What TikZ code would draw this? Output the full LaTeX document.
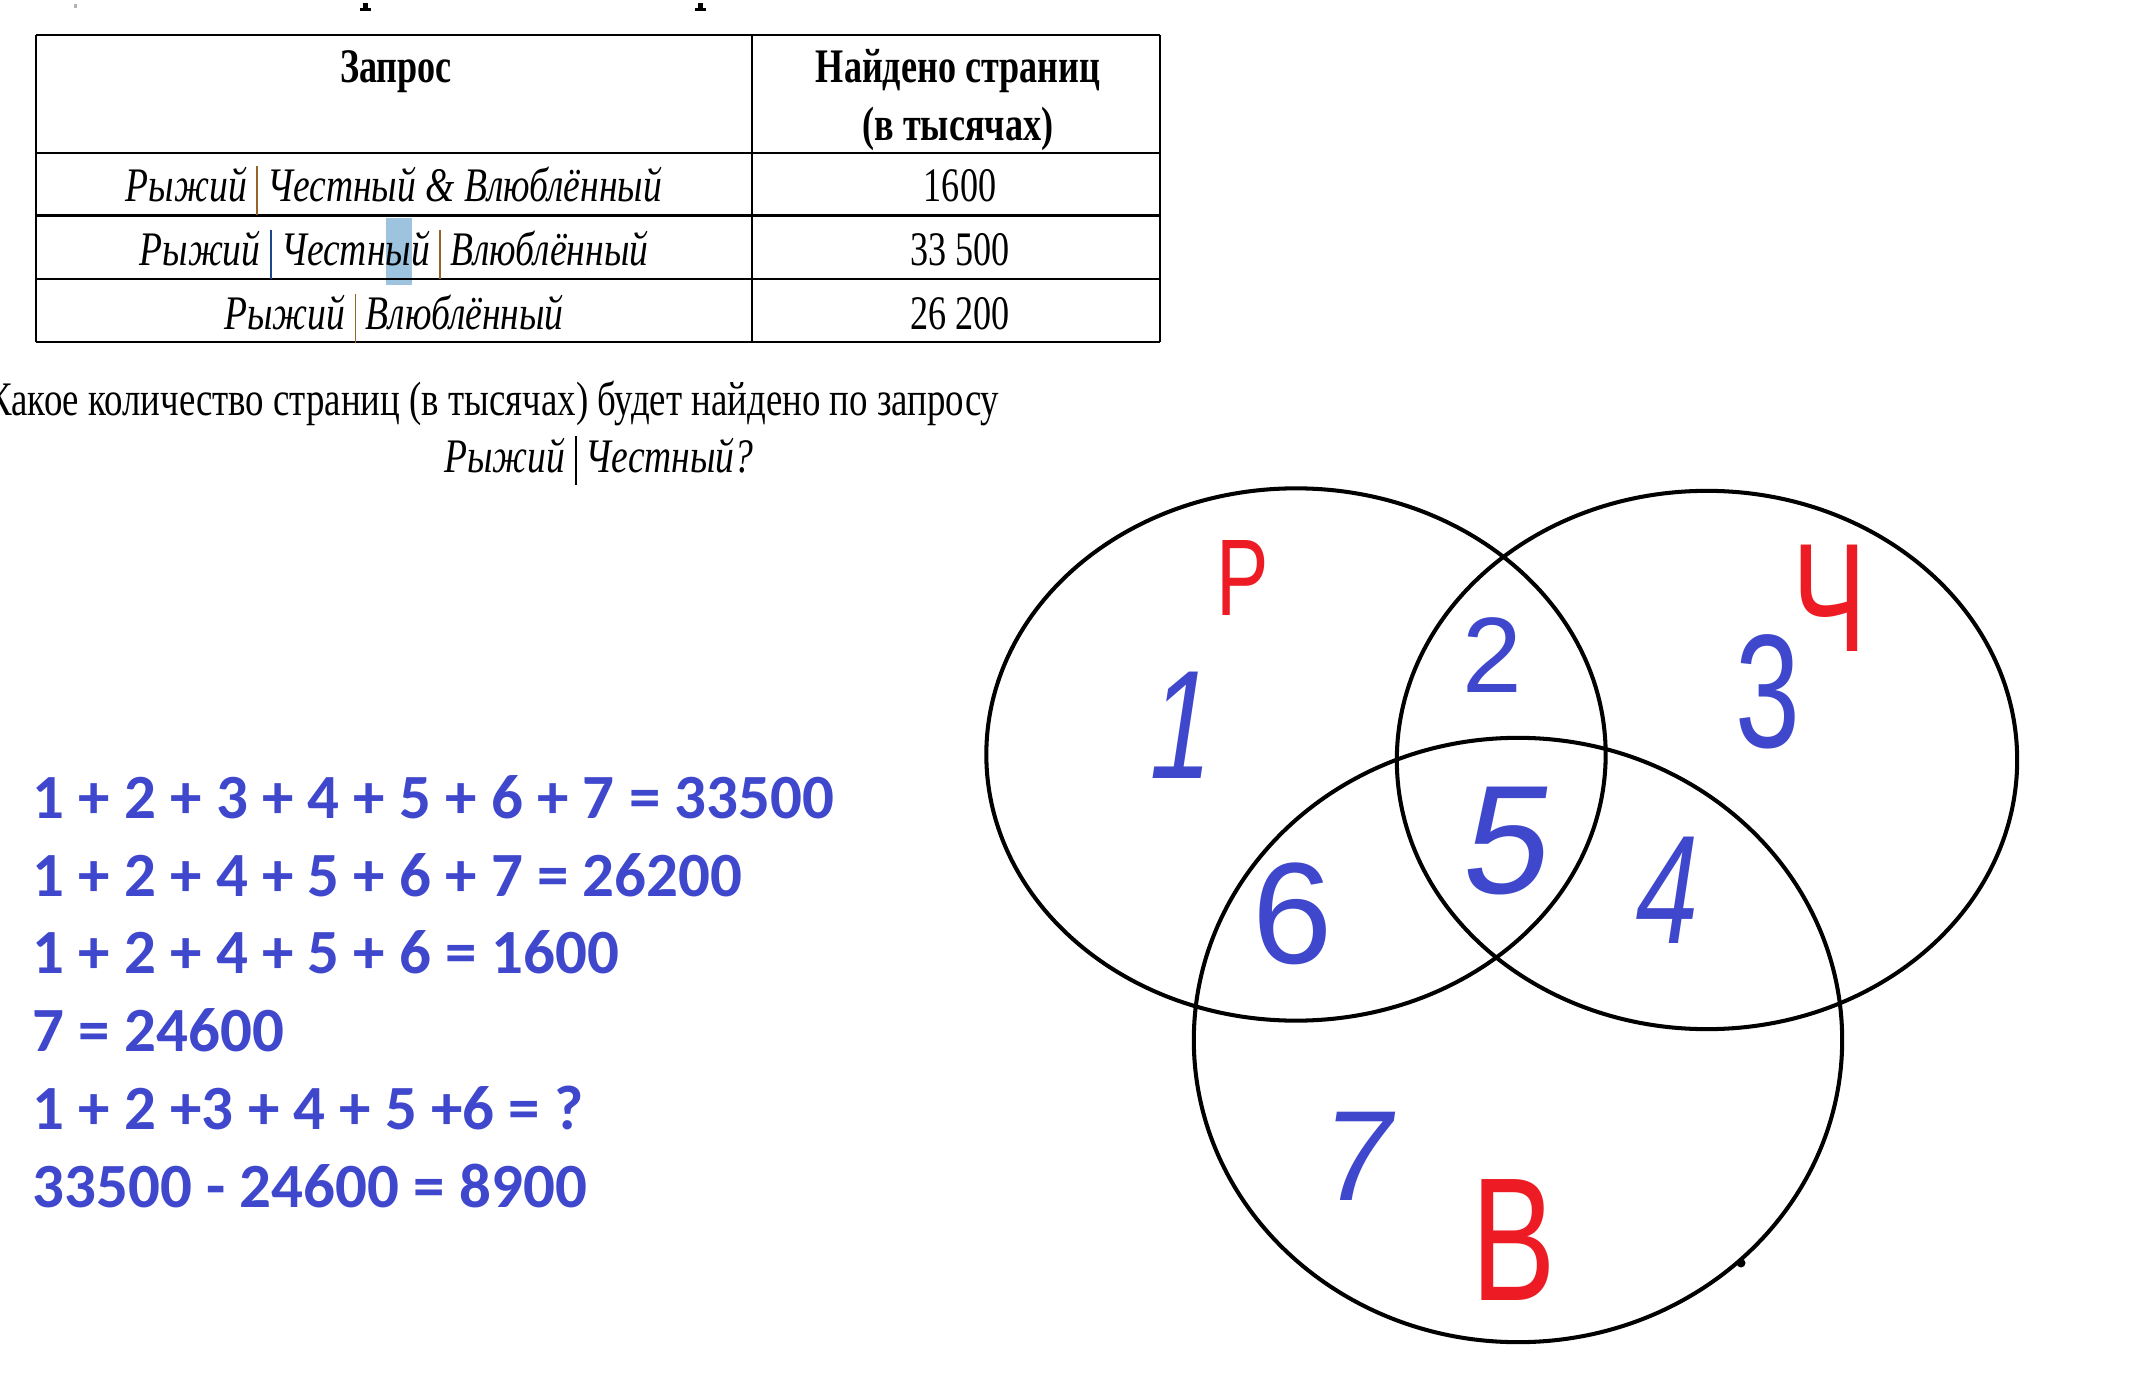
\documentclass[tikz,border=0pt]{standalone}
\usepackage{fontspec}
\setmainfont{Liberation Serif}
\newfontfamily\tbl[FakeStretch=0.75]{Liberation Serif}
\newfontfamily\tbli[FakeStretch=0.78]{Liberation Serif}
\newfontfamily\tblq[FakeStretch=0.765]{Liberation Serif}
\newfontfamily\eqf{Carlito}
\newfontfamily\hand[FakeStretch=0.72]{Liberation Sans}
\newfontfamily\handsl[FakeStretch=0.72,FakeSlant=0.15]{Liberation Sans}
\newfontfamily\handw{Liberation Sans}
\newfontfamily\handwsl[FakeSlant=0.15]{Liberation Sans}
\definecolor{pblue}{RGB}{63,72,204}
\definecolor{pred}{RGB}{237,28,36}
\definecolor{hlcol}{RGB}{157,195,222}
\definecolor{barA}{RGB}{150,100,40}
\definecolor{barB}{RGB}{30,70,140}
\newcommand\vb[1]{\textcolor{#1}{\rule[-0.27em]{0.5pt}{1.02em}}}
\begin{document}
\begin{tikzpicture}[x=0.01cm,y=-0.01cm,
  tabtxt/.style={inner sep=0,anchor=base,font={\tbl\fontsize{13.7}{16}\selectfont}},
  tabhead/.style={tabtxt,font={\tbl\bfseries\fontsize{13.7}{16}\selectfont}},
  tabit/.style={tabtxt,font={\tbli\itshape\fontsize{13.7}{16}\selectfont}},
  hrule/.style={line width=0.75pt,black},
  vrule/.style={line width=0.5pt,black},
  eqline/.style={anchor=base west,inner sep=0,text=pblue,font={\eqf\bfseries\fontsize{17.9}{20}\selectfont}},
  venn/.style={line width=1.15pt,black},
  vlab/.style={inner sep=0,text=pblue},
  rlab/.style={inner sep=0,text=pred}]
\useasboundingbox (0,0) rectangle (2138,1388);
\fill[white] (0,0) rectangle (2138,1388);
% cut-off fragments at the top
\fill[black] (363,3) rectangle (368,10);
\fill[black] (360,8) rectangle (371,11);
\fill[black] (698,3) rectangle (703,10);
\fill[black] (695,8) rectangle (706,11);
\fill[gray!60] (74,4) rectangle (77,8);
% selection highlight
\fill[hlcol] (386,218) rectangle (412,285);
% table rules
\draw[hrule] (36,35) -- (1160,35);
\draw[hrule] (36,153) -- (1160,153);
\draw[hrule] (36,215.5) -- (1160,215.5);
\draw[hrule] (36,279) -- (1160,279);
\draw[hrule] (36,342) -- (1160,342);
\draw[vrule] (36,35) -- (36,342);
\draw[vrule] (752,35) -- (752,342);
\draw[vrule] (1160,35) -- (1160,342);
% table texts
\node[tabhead] (h1) at (396,83) {Запрос};
\node[tabhead] (h2) at (958,83) {Найдено страниц};
\node[tabhead] (h3) at (958,141) {(в тысячах)};
\node[tabit] (r1) at (394,202) {Рыжий \vb{barA} Честный \& Влюблённый};
\node[tabtxt] (n1) at (960,202) {1600};
\node[tabit] (r2) at (394,266) {Рыжий \vb{barB} Честный \vb{barA} Влюблённый};
\node[tabtxt] (n2) at (960,266) {33 500};
\node[tabit] (r3) at (394,330) {Рыжий \vb{barA} Влюблённый};
\node[tabtxt] (n3) at (960,330) {26 200};
% question
\node[tabtxt,anchor=base east,font={\tblq\fontsize{13.7}{16}\selectfont}] (q1) at (1000,416) {Какое количество страниц (в тысячах) будет найдено по запросу};
\node[tabit] (q2) at (599,472) {Рыжий \vb{black} Честный?};
% equations
\node[eqline] (e1) at (32,818) {1 + 2 + 3 + 4 + 5 + 6 + 7 = 33500};
\node[eqline] (e2) at (32,896) {1 + 2 + 4 + 5 + 6 + 7 = 26200};
\node[eqline] (e3) at (32,973) {1 + 2 + 4 + 5 + 6 = 1600};
\node[eqline] (e4) at (32,1051) {7 = 24600};
\node[eqline] (e5) at (32,1129) {1 + 2 +3 + 4 + 5 +6 = ?};
\node[eqline] (e6) at (32,1207) {33500 - 24600 = 8900};
% Venn diagram
\draw[venn] (1296,754.5) ellipse [x radius=3.095cm, y radius=2.66cm];
\draw[venn] (1707,760) ellipse [x radius=3.10cm, y radius=2.69cm];
\draw[venn] (1518,1040) ellipse [x radius=3.24cm, y radius=3.02cm];
\fill[black] (1741,1263) circle [radius=0.045cm];
% region labels
\node[rlab,font={\hand\fontsize{31}{31}\selectfont}] (lp) at (1243,578) {Р};
\node[rlab,font={\hand\fontsize{44}{44}\selectfont}] (lc) at (1830,598) {Ч};
\node[rlab,font={\hand\fontsize{50}{50}\selectfont}] (lv) at (1514,1240) {В};
\node[vlab,font={\handsl\fontsize{44}{44}\selectfont}] (l1) at (1175,725) {1};
\node[vlab,font={\handw\fontsize{30.5}{30.5}\selectfont}] (l2) at (1492,655) {2};
\node[vlab,font={\hand\fontsize{46}{46}\selectfont}] (l3) at (1768,692) {3};
\node[vlab,font={\handsl\fontsize{44}{44}\selectfont}] (l4) at (1661,890) {4};
\node[vlab,font={\handwsl\fontsize{44}{44}\selectfont}] (l5) at (1502,841) {5};
\node[vlab,font={\handw\fontsize{41}{41}\selectfont}] (l6) at (1293,914) {6};
\node[vlab,font={\handwsl\fontsize{36.5}{36.5}\selectfont}] (l7) at (1353,1156) {7};
\end{tikzpicture}
\end{document}
